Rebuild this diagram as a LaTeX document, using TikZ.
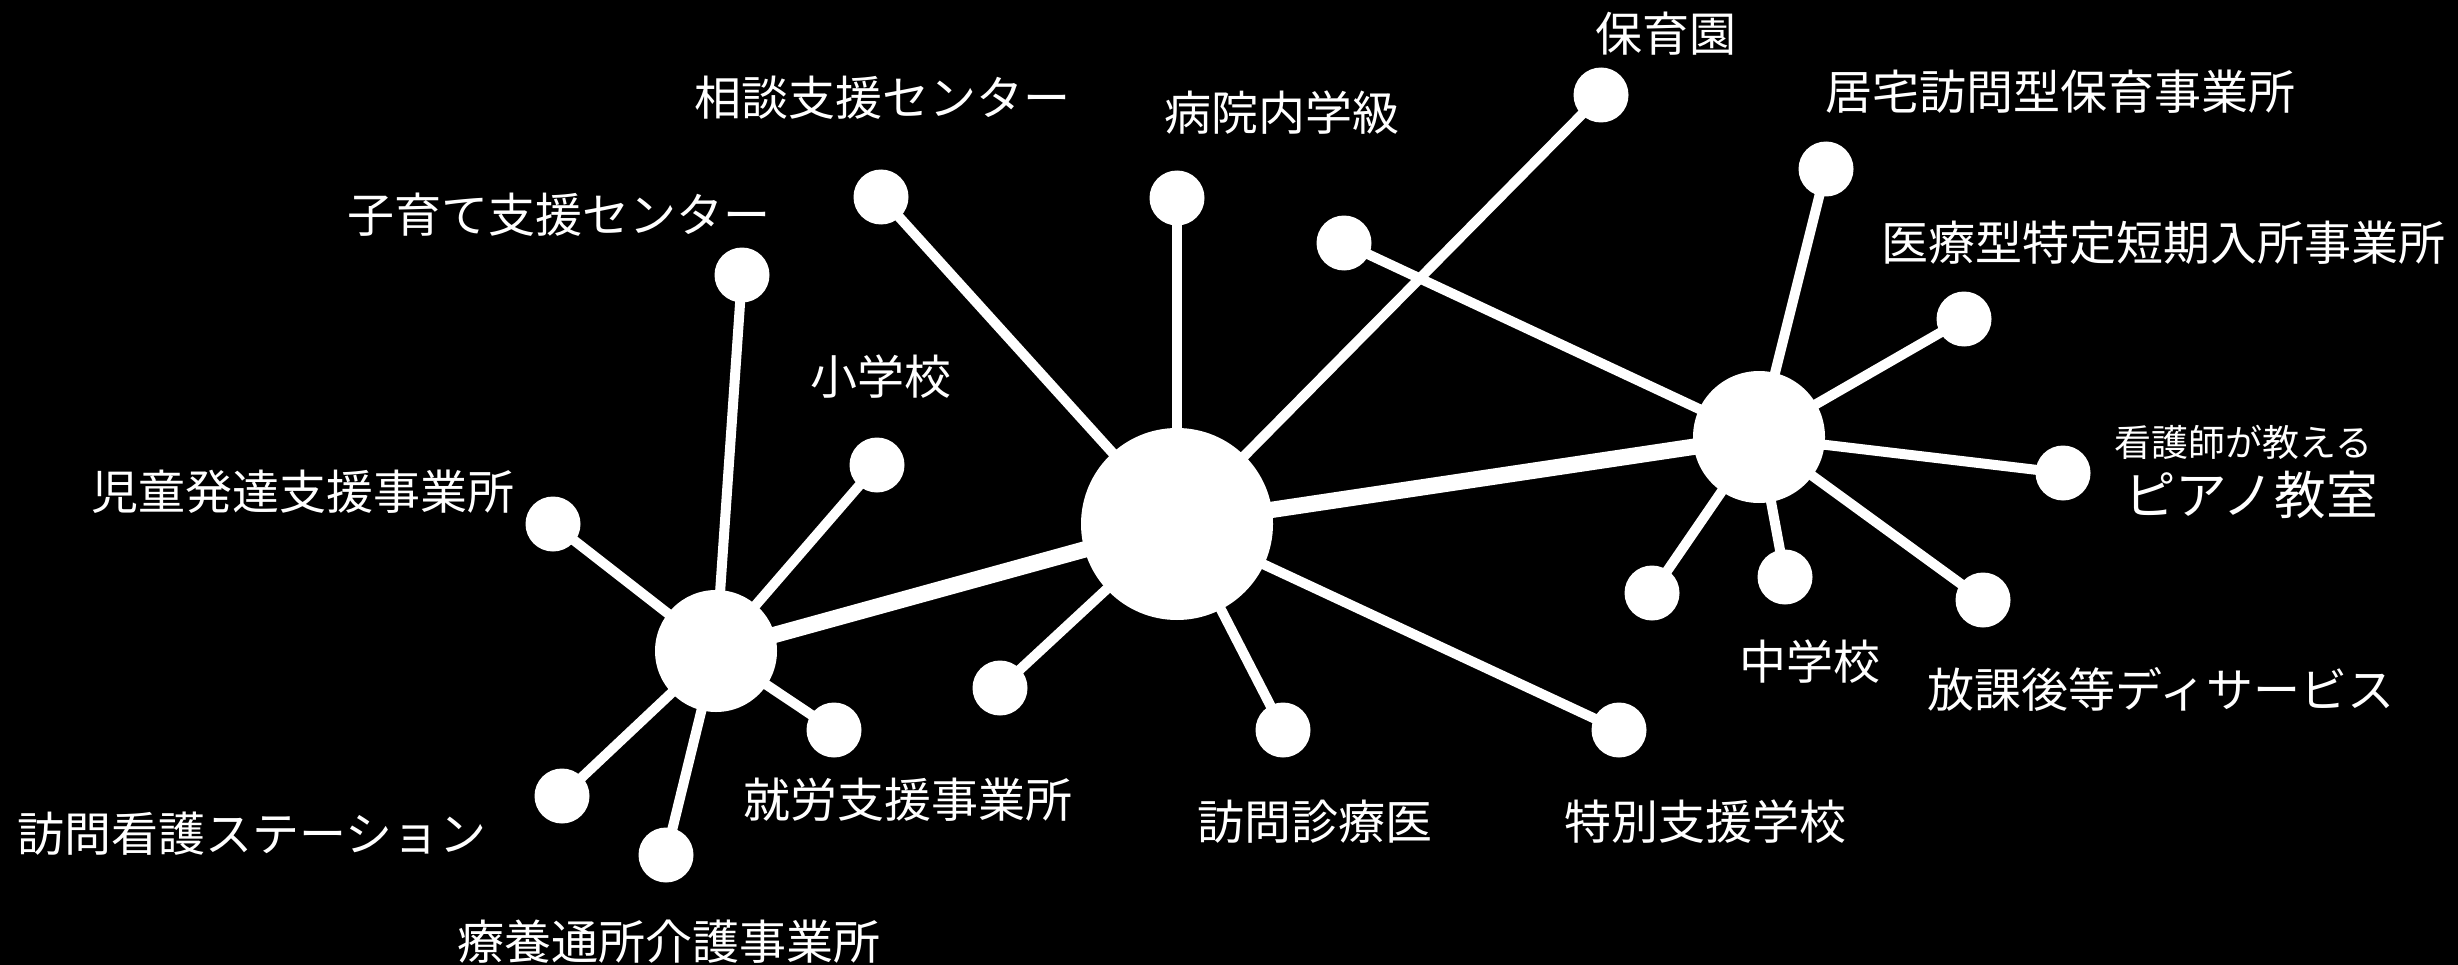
\documentclass[tikz,border=0pt]{standalone}
\usepackage{fontspec}
\newfontfamily\jp{Noto Sans CJK JP}
\pgfdeclarelayer{bg}
\pgfdeclarelayer{edges}
\pgfsetlayers{bg,edges,main}
\tikzset{
  dot/.style={circle,fill=white,draw=none,inner sep=0pt,minimum size=16.5pt},
  hubL/.style={circle,fill=white,draw=none,inner sep=0pt,minimum size=36.6pt},
  hubR/.style={circle,fill=white,draw=none,inner sep=0pt,minimum size=39.6pt},
  hubC/.style={circle,fill=white,draw=none,inner sep=0pt,minimum size=57.6pt},
  thin/.style={draw=white,line width=3pt},
  thick/.style={draw=white,line width=4.9pt},
  lbl/.style={text=white,inner sep=0pt,font=\jp\fontsize{14.1}{16}\selectfont},
  lblsmall/.style={text=white,inner sep=0pt,font=\jp\fontsize{11.1}{13}\selectfont},
  lblbig/.style={text=white,inner sep=0pt,font=\jp\fontsize{15.5}{18}\selectfont}
}
\begin{document}
\begin{tikzpicture}[x=0.3pt,y=-0.3pt]
\begin{pgfonlayer}{bg}
\fill[black] (0,0) rectangle (2458,965);
\end{pgfonlayer}
\useasboundingbox (0,0) rectangle (2458,965);
% hubs
\node[hubC] (C) at (1177,524) {};
\node[hubL] (L) at (716,651) {};
\node[hubR] (R) at (1759,437) {};
% centre leaves
\node[dot] (soudan) at (881,197) {};
\node[dot] (byouin) at (1177,198) {};
\node[dot] (hoiku) at (1601,95) {};
\node[dot] (c4) at (1000,688) {};
\node[dot] (houmonshin) at (1283,730) {};
\node[dot] (tokubetsu) at (1619,730) {};
% left leaves
\node[dot] (kosodate) at (742,275) {};
\node[dot] (shou) at (877,465) {};
\node[dot] (jidou) at (553,524) {};
\node[dot] (shurou) at (834,730) {};
\node[dot] (houmonkan) at (562,796) {};
\node[dot] (ryouyou) at (666,855) {};
% right leaves
\node[dot] (r1) at (1344,243) {};
\node[dot] (kyotaku) at (1826,169) {};
\node[dot] (iryou) at (1964,319) {};
\node[dot] (piano) at (2063,473) {};
\node[dot] (r5) at (1652,593) {};
\node[dot] (chuu) at (1785,577) {};
\node[dot] (houka) at (1983,600) {};
\begin{pgfonlayer}{edges}
\draw[thick] (L.center) -- (C.center);
\draw[thick] (C.center) -- (R.center);
\foreach \n in {soudan,byouin,hoiku,c4,houmonshin,tokubetsu}
  \draw[thin] (C.center) -- (\n.center);
\foreach \n in {kosodate,shou,jidou,shurou,houmonkan,ryouyou}
  \draw[thin] (L.center) -- (\n.center);
\foreach \n in {r1,kyotaku,iryou,piano,r5,chuu,houka}
  \draw[thin] (R.center) -- (\n.center);
\end{pgfonlayer}
% labels
\node[lbl] (t1) at (882,98) {相談支援センター};
\node[lbl] (t2) at (1282,113) {病院内学級};
\node[lbl] (t3) at (1666,34) {保育園};
\node[lbl] (t4) at (2060,92) {居宅訪問型保育事業所};
\node[lbl] (t5) at (2163,243) {医療型特定短期入所事業所};
\node[lblsmall] (t6) at (2243,442) {看護師が教える};
\node[lblbig] (t7) at (2251,495) {ピアノ教室};
\node[lbl] (t8) at (1810,662) {中学校};
\node[lbl] (t9) at (2161,689) {放課後等ディサービス};
\node[lbl] (t10) at (1705,822) {特別支援学校};
\node[lbl] (t11) at (1315,822) {訪問診療医};
\node[lbl] (t12) at (559,215) {子育て支援センター};
\node[lbl] (t13) at (881,377) {小学校};
\node[lbl] (t14) at (303,492) {児童発達支援事業所};
\node[lbl] (t15) at (908,800) {就労支援事業所};
\node[lbl] (t16) at (252,834) {訪問看護ステーション};
\node[lbl] (t17) at (669,942) {療養通所介護事業所};
\end{tikzpicture}
\end{document}
